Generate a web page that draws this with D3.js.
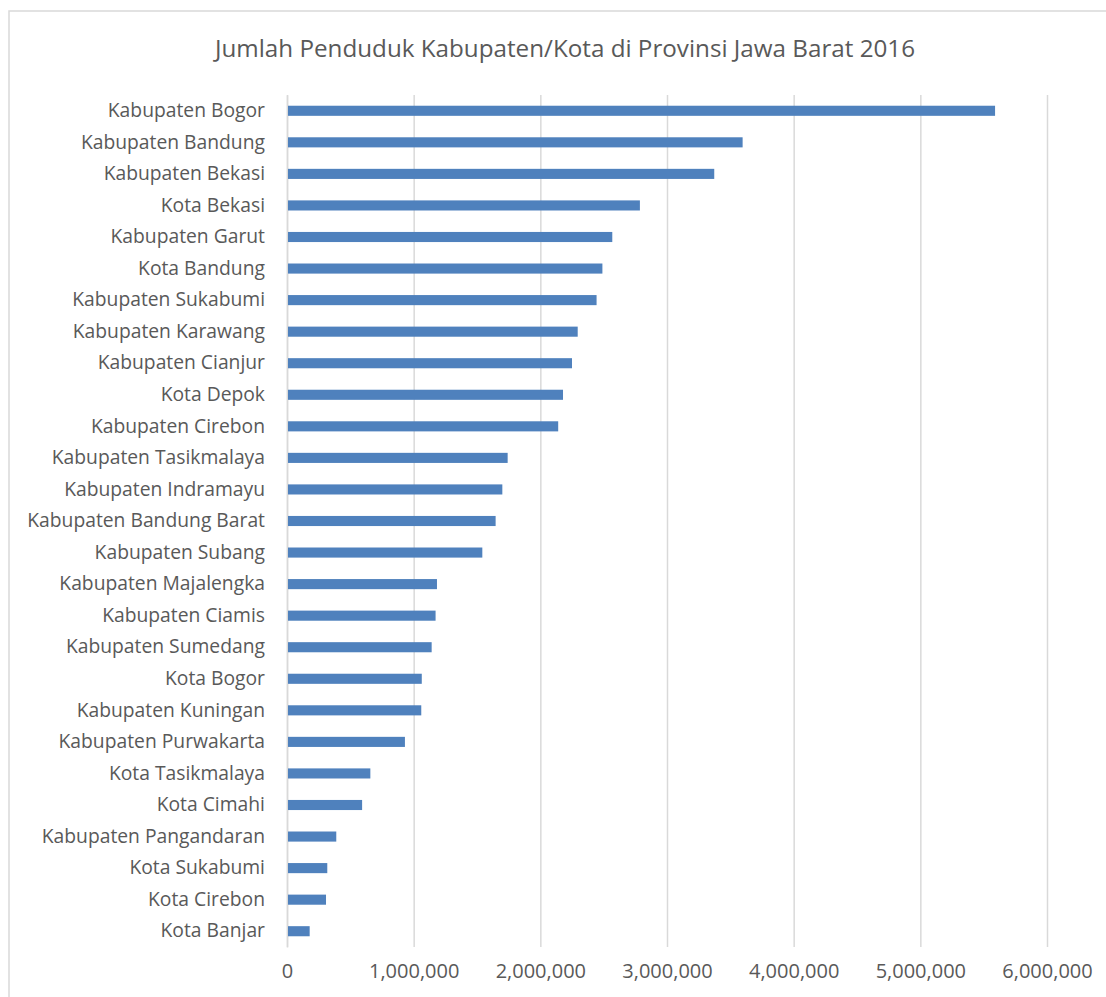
<!DOCTYPE html>
<html>
<head>
<meta charset="utf-8">
<script src="https://cdn.jsdelivr.net/npm/d3@7"></script>
<style>
  html, body { margin: 0; padding: 0; background: #fff; }
  svg { display: block; font-family: "Open Sans", "Noto Sans", sans-serif; }
</style>
</head>
<body>
<svg id="chart" width="1106" height="997"></svg>
<script>
// Jumlah penduduk per kabupaten/kota, Jawa Barat 2016
const regions = [
  "Kabupaten Bogor", "Kabupaten Bandung", "Kabupaten Bekasi", "Kota Bekasi",
  "Kabupaten Garut", "Kota Bandung", "Kabupaten Sukabumi", "Kabupaten Karawang",
  "Kabupaten Cianjur", "Kota Depok", "Kabupaten Cirebon", "Kabupaten Tasikmalaya",
  "Kabupaten Indramayu", "Kabupaten Bandung Barat", "Kabupaten Subang",
  "Kabupaten Majalengka", "Kabupaten Ciamis", "Kabupaten Sumedang", "Kota Bogor",
  "Kabupaten Kuningan", "Kabupaten Purwakarta", "Kota Tasikmalaya", "Kota Cimahi",
  "Kabupaten Pangandaran", "Kota Sukabumi", "Kota Cirebon", "Kota Banjar"
];
const population = [
  5590000, 3597000, 3373000, 2786000,
  2568000, 2490000, 2444000, 2295000,
  2250000, 2179000, 2141000, 1742000,
  1700000, 1647000, 1542000,
  1184000, 1173000, 1142000, 1064000,
  1060000, 931000, 658000, 593000,
  389000, 318000, 308000, 179000
];
const xTicks = [0, 1000000, 2000000, 3000000, 4000000, 5000000, 6000000];

const W = 1106, H = 997;
const PLOT = { left: 287, right: 1047, top: 95, bottom: 947 };
const BAR_COLOR = "#4f81bd";
const GRID_COLOR = "#d9d9d9";
const TEXT_COLOR = "#595959";
const FONT = "\"Open Sans\", sans-serif";

const svg = d3.select("#chart");

// outer chart border (clipped by the page on right/bottom)
svg.append("rect")
  .attr("x", 9).attr("y", 11).attr("width", W + 10).attr("height", H + 10)
  .attr("fill", "none").attr("stroke", GRID_COLOR).attr("stroke-width", 1.5);

svg.append("text")
  .attr("x", 565).attr("y", 57)
  .attr("text-anchor", "middle").attr("font-size", "24px").attr("fill", TEXT_COLOR)
  .attr("textLength", 700).attr("lengthAdjust", "spacingAndGlyphs")
  .text("Jumlah Penduduk Kabupaten/Kota di Provinsi Jawa Barat 2016");

const x = d3.scaleLinear().domain([0, 6000000]).range([PLOT.left, PLOT.right]);
const y = d3.scaleBand().domain(regions).range([PLOT.top, PLOT.bottom])
  .paddingInner(0.68).paddingOuter(0.34);

// vertical gridlines + tick labels
svg.append("g")
  .attr("transform", `translate(0,${PLOT.bottom})`)
  .call(d3.axisBottom(x).tickValues(xTicks).tickFormat(d3.format(",")).tickSize(-(PLOT.bottom - PLOT.top)).tickPadding(17))
  .call(ax => ax.select(".domain").remove())
  .call(ax => ax.selectAll(".tick line").attr("stroke", GRID_COLOR).attr("stroke-width", 1.5))
  .call(ax => ax.selectAll(".tick text").attr("font-size", "20px").attr("fill", TEXT_COLOR)
    .attr("font-family", FONT));

// category labels
svg.append("g")
  .attr("transform", `translate(${PLOT.left},0)`)
  .call(d3.axisLeft(y).tickSize(0).tickPadding(22))
  .call(ax => ax.select(".domain").attr("stroke", GRID_COLOR).attr("stroke-width", 1.5))
  .call(ax => ax.selectAll(".tick text").attr("font-size", "19.3px").attr("fill", TEXT_COLOR)
    .attr("font-family", FONT));

// bars
svg.append("g").selectAll("rect")
  .data(regions)
  .join("rect")
  .attr("x", x(0) + 1)
  .attr("y", d => y(d))
  .attr("width", (d, i) => x(population[i]) - x(0) - 1)
  .attr("height", y.bandwidth())
  .attr("fill", BAR_COLOR);
</script>
</body>
</html>
